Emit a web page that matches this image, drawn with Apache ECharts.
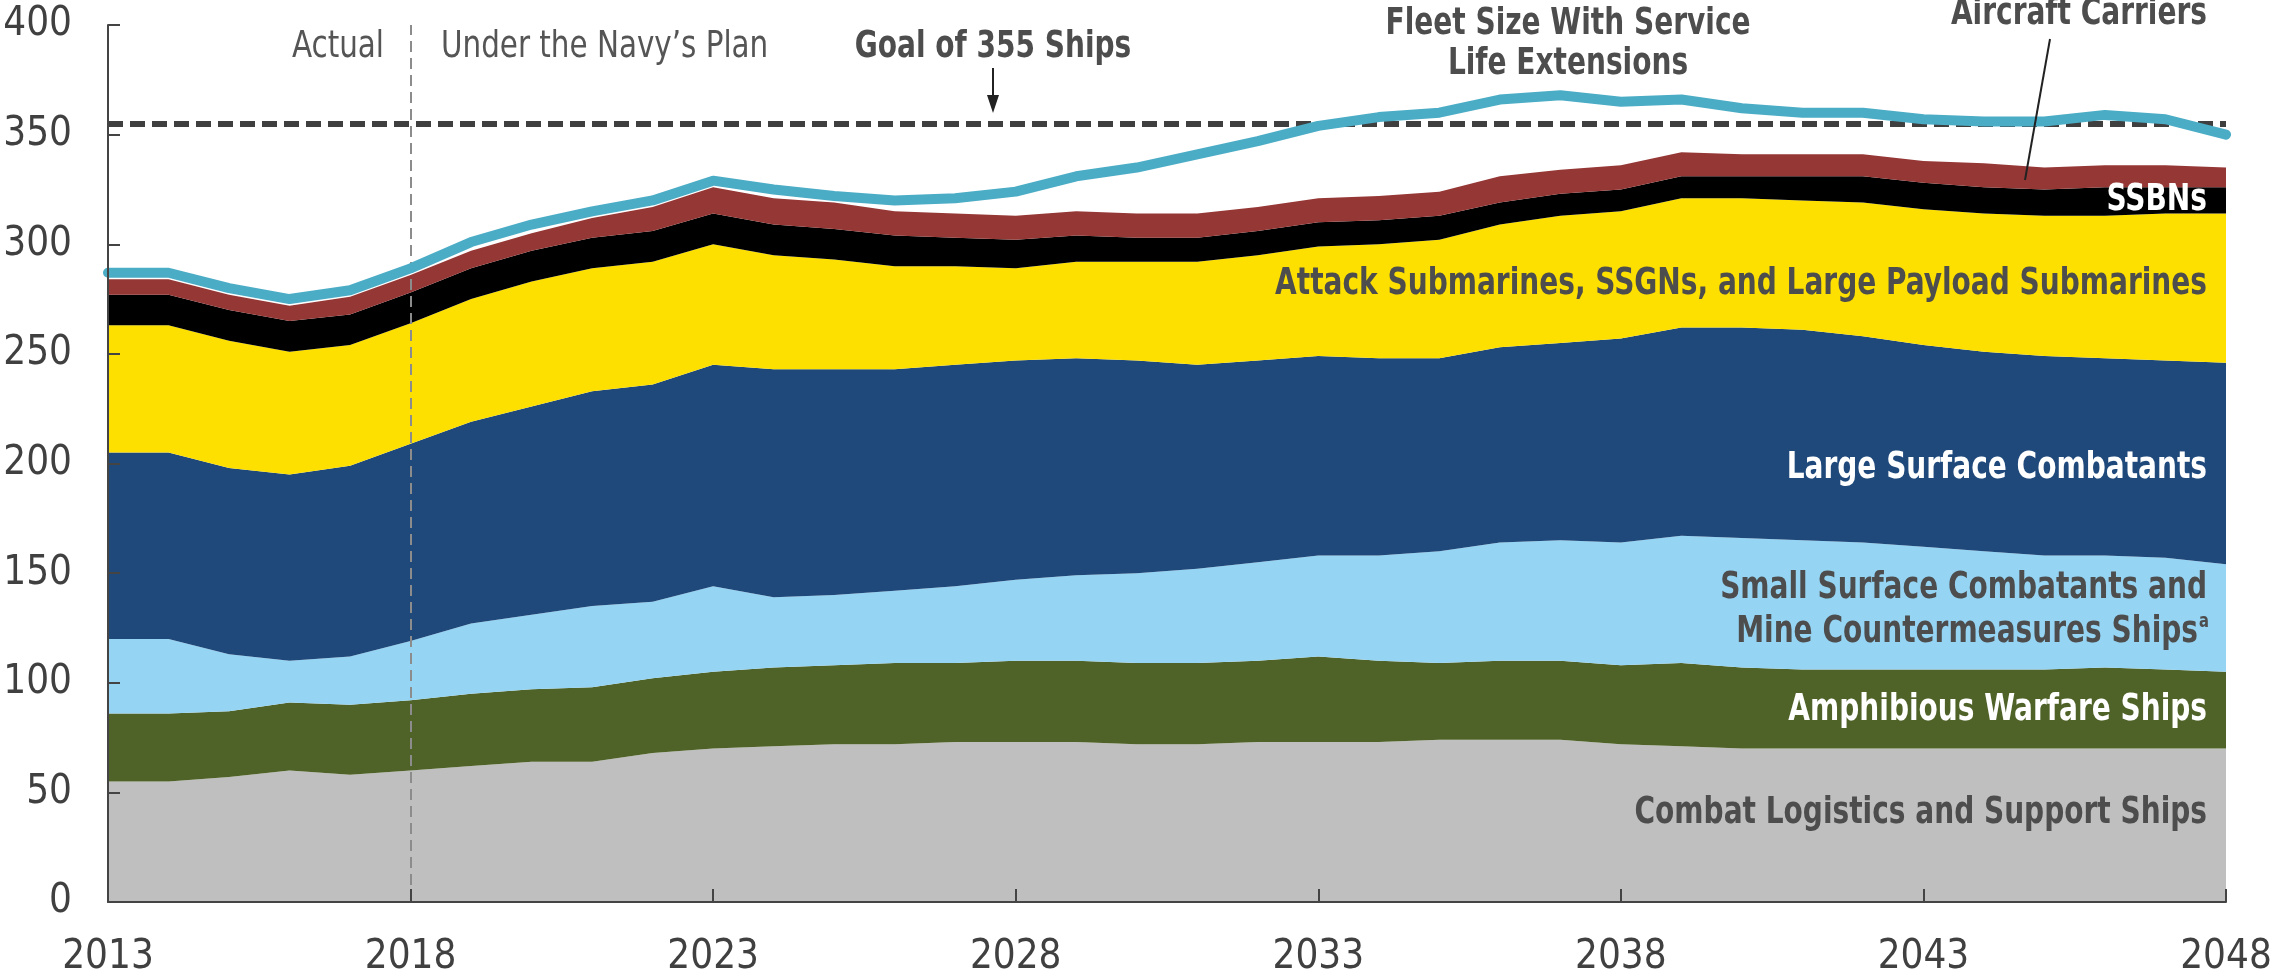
<!DOCTYPE html>
<html>
<head>
<meta charset="utf-8">
<script src="https://cdn.jsdelivr.net/npm/echarts@6/dist/echarts.min.js"></script>
<style>
  html, body { margin: 0; padding: 0; background: #fff; }
  #chart { width: 2293px; height: 979px; }
</style>
</head>
<body>
<div id="chart"></div>
<script>
// years on the x axis
const years = ["2013","2014","2015","2016","2017","2018","2019","2020","2021","2022",
  "2023","2024","2025","2026","2027","2028","2029","2030","2031","2032",
  "2033","2034","2035","2036","2037","2038","2039","2040","2041","2042",
  "2043","2044","2045","2046","2047","2048"];

// ship counts per category, stacked bottom to top
const logistics = [55,55,57,60,58,60,62,64,64,68,70,71,72,72,73,73,73,72,72,73,73,73,74,74,74,72,71,70,70,70,70,70,70,70,70,70];
const amphib = [31,31,30,31,32,32,33,33,34,34,35,36,36,37,36,37,37,37,37,37,39,37,35,36,36,36,38,37,36,36,36,36,36,37,36,35];
const smallSurface = [34,34,26,19,22,27,32,34,37,35,39,32,32,33,35,37,39,41,43,45,46,48,51,54,55,56,58,59,59,58,56,54,52,51,51,49];
const largeSurface = [85,85,85,85,87,90,92,95,98,99,101,104,103,101,101,100,99,97,93,92,91,90,88,89,90,93,95,96,96,94,92,91,91,90,90,92];
const attackSubs = [58,58,58,56,55,55,56,57,56,56,55,52,50,47,45,42,44,45,47,48,50,52,54,56,58,58,59,59,59,61,62,63,64,65,67,68];
const ssbns = [14,14,14,14,14,14,14,14,14,14,14,14,14,14,13,13,12,11,11,11,11,11,11,10,10,10,10,10,11,12,12,12,12,13,12,12];
const carriers = [7,7,7,7,8,8,8,8,9,11,12,12,12,11,11,11,11,11,11,11,11,11,11,12,11,11,11,10,10,10,10,11,10,10,10,9];
// total fleet with service life extensions
const fleetSLE = [287,287,280,275,279,289,301,309,315,320,329,325,322,320,321,324,331,335,341,347,354,358,360,366,368,365,366,362,360,360,357,356,356,359,357,350];

const yTicks = [0, 50, 100, 150, 200, 250, 300, 350, 400];
const goal = 355;

const NARROW = "'Liberation Sans Narrow', 'DejaVu Sans Condensed', Roboto, sans-serif";
const DARK = "#4d4d4d";

const chart = echarts.init(document.getElementById("chart"));

const area = (name, data, color) => ({
  name: name,
  type: "line",
  stack: "total",
  data: data,
  symbol: "none",
  lineStyle: { width: 0 },
  areaStyle: { color: color, opacity: 1 },
  itemStyle: { color: color },
  z: 2,
});

// bold condensed annotation, squeezed a bit to match the narrow face
const label = (text, x, y, color, align, size) => ({
  type: "text",
  x: x,
  y: y,
  scaleX: 0.82,
  z: 100,
  style: {
    text: text,
    fill: color,
    font: "bold " + (size || 38) + "px " + NARROW,
    textAlign: align || "right",
    textVerticalAlign: "middle",
  },
});

const lightLabel = (text, x, y, align) => ({
  type: "text",
  x: x,
  y: y,
  scaleX: 0.86,
  z: 100,
  style: {
    text: text,
    fill: "#555",
    font: "38px " + NARROW,
    textAlign: align,
    textVerticalAlign: "middle",
  },
});

let option = {
  animation: false,
  backgroundColor: "#fff",
  grid: { left: 108, right: 67, top: 25, bottom: 77 },
  xAxis: {
    type: "category",
    data: years,
    boundaryGap: false,
    axisLine: { lineStyle: { color: "#444", width: 2 } },
    axisTick: { inside: true, length: 13, interval: 4, lineStyle: { color: "#444", width: 2 } },
    axisLabel: { interval: 4, margin: 36, color: "#404040", fontSize: 40, fontFamily: NARROW },
    splitLine: { show: false },
    z: 10,
  },
  yAxis: {
    type: "value",
    min: yTicks[0],
    max: yTicks[yTicks.length - 1],
    interval: 50,
    axisLine: { show: true, lineStyle: { color: "#444", width: 2 } },
    axisTick: { show: true, inside: true, length: 12, lineStyle: { color: "#444", width: 2 } },
    axisLabel: { margin: 36, color: "#404040", fontSize: 40, fontFamily: NARROW },
    splitLine: { show: false },
    z: 10,
  },
  series: [
    area("Combat Logistics and Support Ships", logistics, "#bfbfbf"),
    area("Amphibious Warfare Ships", amphib, "#4f6228"),
    area("Small Surface Combatants and Mine Countermeasures Ships", smallSurface, "#95d4f3"),
    area("Large Surface Combatants", largeSurface, "#1f497b"),
    area("Attack Submarines, SSGNs, and Large Payload Submarines", attackSubs, "#fde000"),
    area("SSBNs", ssbns, "#000000"),
    area("Aircraft Carriers", carriers, "#953735"),
    {
      name: "Fleet Size With Service Life Extensions",
      type: "line",
      data: fleetSLE,
      symbol: "none",
      lineStyle: { color: "#4bacc6", width: 10, cap: "round", join: "round" },
      itemStyle: { color: "#4bacc6" },
      z: 5,
      markLine: {
        silent: true,
        symbol: "none",
        label: { show: false },
        data: [
          { yAxis: goal, lineStyle: { color: "#3f3f3f", width: 6, type: [15, 7] } },
          { xAxis: "2018", lineStyle: { color: "#8c8c8c", width: 2, type: [11, 6] } },
        ],
      },
    },
  ],
  graphic: [
    lightLabel("Actual", 384, 47, "right"),
    lightLabel("Under the Navy\u2019s Plan", 441, 47, "left"),
    label("Goal of 355 Ships", 993, 47, DARK, "center"),
    {
      type: "line", z: 100,
      shape: { x1: 993, y1: 68, x2: 993, y2: 100 },
      style: { stroke: "#222", lineWidth: 2 },
    },
    {
      type: "polygon", z: 100,
      shape: { points: [[987, 95], [999, 95], [993, 113]] },
      style: { fill: "#222" },
    },
    label("Fleet Size With Service", 1568, 24, DARK, "center"),
    label("Life Extensions", 1568, 64, DARK, "center"),
    label("Aircraft Carriers", 2207, 14, DARK, "right"),
    {
      type: "line", z: 100,
      shape: { x1: 2050, y1: 39, x2: 2025, y2: 180 },
      style: { stroke: "#222", lineWidth: 2 },
    },
    label("SSBNs", 2207, 200, "#ffffff", "right"),
    label("Attack Submarines, SSGNs, and Large Payload Submarines", 2207, 284, DARK, "right"),
    label("Large Surface Combatants", 2207, 468, "#ffffff", "right"),
    label("Small Surface Combatants and", 2207, 588, DARK, "right"),
    label("Mine Countermeasures Ships", 2198, 632, DARK, "right"),
    label("a", 2199, 622, DARK, "left", 20),
    label("Amphibious Warfare Ships", 2207, 710, "#ffffff", "right"),
    label("Combat Logistics and Support Ships", 2207, 813, DARK, "right"),
  ],
};

option && chart.setOption(option);
</script>
</body>
</html>
